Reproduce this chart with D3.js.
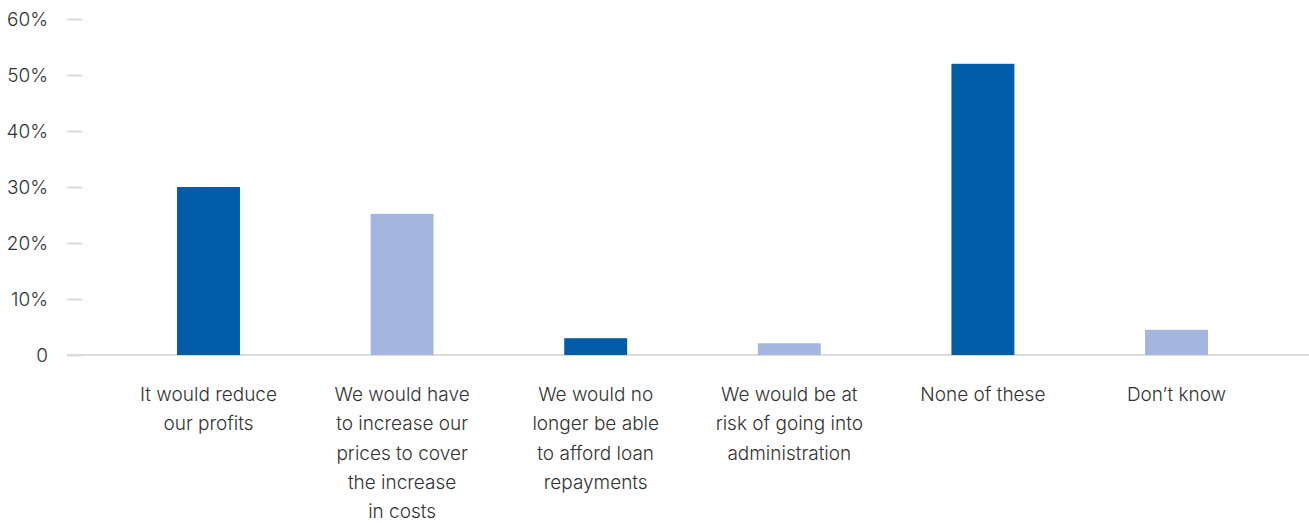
<!DOCTYPE html>
<html>
<head>
<meta charset="utf-8">
<script src="https://cdn.jsdelivr.net/npm/d3@7"></script>
<style>
  body { margin: 0; background: #fff; }
  text { font-family: Inter, "Noto Sans", sans-serif; font-weight: 300; fill: #333; }
</style>
</head>
<body>
<div id="chart"></div>
<script>
const categories = [
    "It would reduce\nour profits",
    "We would have\nto increase our\nprices to cover\nthe increase\nin costs",
    "We would no\nlonger be able\nto afford loan\nrepayments",
    "We would be at\nrisk of going into\nadministration",
    "None of these",
    "Don\u2019t know"
];
const values = [30, 25.2, 3.0, 2.1, 52, 4.5];
const barColours = ["#005ca8", "#a5b6de", "#005ca8", "#a5b6de", "#005ca8", "#a5b6de"];
const yTicks = [0, 10, 20, 30, 40, 50, 60];

const width = 1309, height = 523;

const svg = d3.select("#chart")
    .append("svg")
        .attr("width", width)
        .attr("height", height);

const x = d3.scaleBand()
    .domain(categories)
    .range([111.7, 1273.3])
    .paddingInner(0.675)
    .paddingOuter(0.3375);

const y = d3.scaleLinear()
    .domain([0, 60])
    .range([355, 19]);

// small grey tick dashes + labels on the left
const yAxis = svg.append("g")
    .attr("transform", "translate(82, 0)")
    .call(d3.axisLeft(y)
        .tickValues(yTicks)
        .tickSize(15)
        .tickPadding(19)
        .tickFormat(d => d === 0 ? "0" : d + "%"));
yAxis.select(".domain").remove();
yAxis.selectAll(".tick line").attr("stroke", "#d9d9d9").attr("stroke-width", 2);
yAxis.selectAll(".tick text")
    .style("font-size", "19px")
    .attr("fill", "#333");

// baseline
svg.append("line")
    .attr("x1", 67)
    .attr("x2", width)
    .attr("y1", y(0))
    .attr("y2", y(0))
    .attr("stroke", "#dcdcdc")
    .attr("stroke-width", 2);

svg.selectAll("rect.bar")
    .data(values)
    .enter()
    .append("rect")
        .attr("class", "bar")
        .attr("x", (d, i) => x(categories[i]))
        .attr("y", d => y(d))
        .attr("width", x.bandwidth())
        .attr("height", d => y(0) - y(d))
        .attr("fill", (d, i) => barColours[i]);

// category labels, several lines each
const labels = svg.selectAll("text.cat")
    .data(categories)
    .enter()
    .append("text")
        .attr("class", "cat")
        .attr("text-anchor", "middle")
        .style("font-size", "19px")
        .attr("transform", d => "translate(" + (x(d) + x.bandwidth() / 2) + ", 401)");

labels.selectAll("tspan")
    .data(d => d.split("\n"))
    .enter()
    .append("tspan")
        .attr("x", 0)
        .attr("y", (d, i) => i * 29.3)
        .text(d => d);
</script>
</body>
</html>
